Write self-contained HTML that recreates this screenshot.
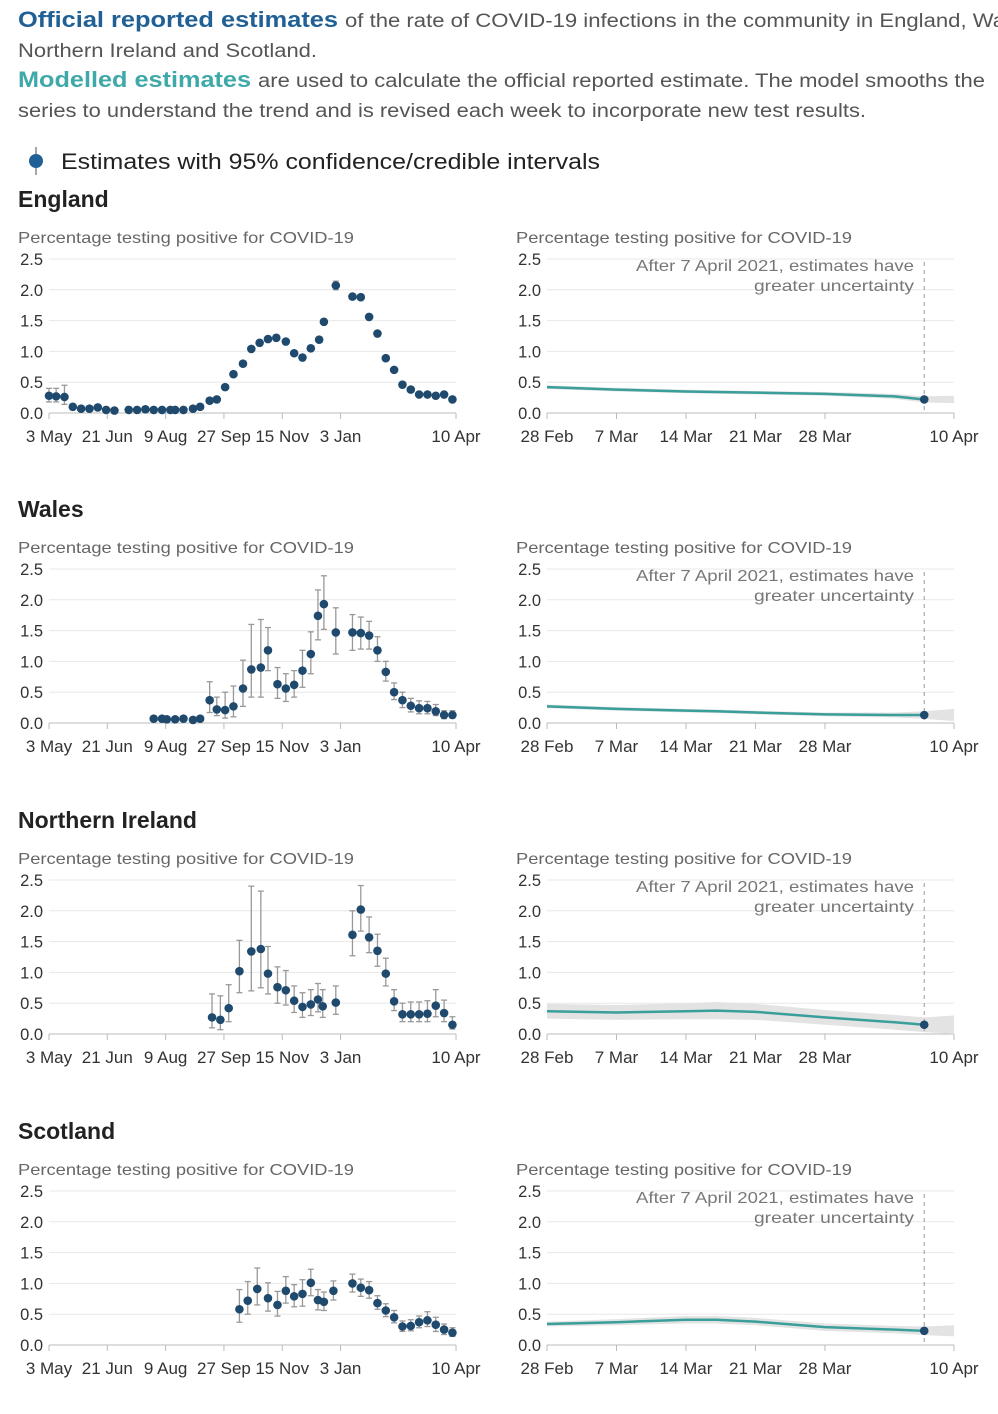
<!DOCTYPE html>
<html><head><meta charset="utf-8">
<style>
body{margin:0;background:#fff;width:998px;height:1414px;overflow:hidden;font-family:"Liberation Sans",sans-serif;}
svg{display:block}
</style></head>
<body>
<svg id="root" width="998" height="1414" viewBox="0 0 998 1414" xmlns="http://www.w3.org/2000/svg" font-family="Liberation Sans, sans-serif">
<text x="18" y="27" font-size="22" font-weight="bold" fill="#206095" textLength="320" lengthAdjust="spacingAndGlyphs">Official reported estimates</text>
<text x="345" y="27" font-size="19" fill="#555" textLength="665" lengthAdjust="spacingAndGlyphs">of the rate of COVID-19 infections in the community in England, Wal</text>
<text x="18" y="57" font-size="19" fill="#555" textLength="299" lengthAdjust="spacingAndGlyphs">Northern Ireland and Scotland.</text>
<text x="18" y="87" font-size="22" font-weight="bold" fill="#3fa8a8" textLength="233" lengthAdjust="spacingAndGlyphs">Modelled estimates</text>
<text x="258" y="87" font-size="19" fill="#555" textLength="727" lengthAdjust="spacingAndGlyphs">are used to calculate the official reported estimate. The model smooths the</text>
<text x="18" y="117" font-size="19" fill="#555" textLength="848" lengthAdjust="spacingAndGlyphs">series to understand the trend and is revised each week to incorporate new test results.</text>
<g>
<line x1="36" y1="147" x2="36" y2="175" stroke="#888" stroke-width="1.5"/>
<circle cx="36" cy="161" r="7" fill="#206095"/>
<text x="61" y="169" font-size="22" fill="#222" textLength="539" lengthAdjust="spacingAndGlyphs">Estimates with 95% confidence/credible intervals</text>
</g>
<g id="charts"></g>
</svg>
<script>
const regions = ["England","Wales","Northern Ireland","Scotland"];
const leftTickLabels = ["3 May","21 Jun","9 Aug","27 Sep","15 Nov","3 Jan","10 Apr"];
const leftTickDays = [0,49,98,147,196,245,342];
const rightTickLabels = ["28 Feb","7 Mar","14 Mar","21 Mar","28 Mar","10 Apr"];
const rightTickDays = [0,7,14,21,28,41];
const yTicks = [0,0.5,1,1.5,2,2.5];

const engDays = [0,6,13,20,27,34,41,48,55,67,74,81,88,95,102,106,113,121,127,135,141,148,155,163,170,177,184,191,199,206,213,220,227,231,241,255,262,269,276,283,290,297,304,311,318,325,332,339];
const engVals = [0.28,0.27,0.26,0.1,0.07,0.07,0.09,0.05,0.04,0.05,0.05,0.06,0.05,0.05,0.05,0.05,0.05,0.07,0.1,0.2,0.22,0.42,0.63,0.8,1.04,1.14,1.2,1.22,1.16,0.97,0.9,1.05,1.19,1.48,2.07,1.89,1.88,1.56,1.29,0.89,0.7,0.46,0.38,0.3,0.3,0.28,0.3,0.22];
const engLo = [0.18,0.18,0.14,0.07,0.05,0.05,0.06,0.03,0.02,0.03,0.03,0.04,0.03,0.03,0.03,0.03,0.03,0.05,0.08,0.18,0.2,0.4,0.6,0.77,1.01,1.11,1.17,1.19,1.13,0.94,0.87,1.02,1.16,1.44,2.0,1.85,1.84,1.52,1.26,0.86,0.67,0.43,0.35,0.27,0.27,0.25,0.27,0.19];
const engHi = [0.4,0.4,0.45,0.13,0.1,0.1,0.13,0.08,0.07,0.08,0.08,0.09,0.08,0.08,0.08,0.08,0.08,0.1,0.12,0.22,0.24,0.44,0.66,0.83,1.07,1.17,1.23,1.25,1.19,1.0,0.93,1.08,1.22,1.52,2.14,1.93,1.92,1.6,1.32,0.92,0.73,0.49,0.41,0.33,0.33,0.31,0.33,0.25];

const walDays = [88,95,99,106,113,121,127,135,141,148,155,163,170,178,184,192,199,206,213,220,226,231,241,255,262,269,276,283,290,297,304,311,318,325,332,339];
const walVals = [0.07,0.07,0.06,0.06,0.07,0.05,0.07,0.37,0.22,0.21,0.27,0.56,0.87,0.9,1.18,0.63,0.56,0.62,0.85,1.12,1.74,1.93,1.47,1.47,1.46,1.42,1.18,0.83,0.5,0.37,0.28,0.24,0.24,0.19,0.13,0.13];
const walLo = [0.04,0.04,0.03,0.03,0.04,0.02,0.03,0.17,0.12,0.08,0.1,0.27,0.42,0.42,0.85,0.4,0.35,0.42,0.58,0.8,1.35,1.52,1.12,1.18,1.2,1.2,1.0,0.68,0.38,0.25,0.18,0.15,0.15,0.12,0.07,0.08];
const walHi = [0.1,0.1,0.09,0.09,0.1,0.08,0.11,0.67,0.42,0.5,0.6,1.02,1.6,1.68,1.55,0.9,0.8,0.85,1.18,1.48,2.16,2.39,1.87,1.76,1.72,1.65,1.4,1.0,0.65,0.5,0.4,0.36,0.35,0.3,0.2,0.2];

const niDays = [137,144,151,160,170,178,184,192,199,206,213,220,226,230,241,255,262,269,276,283,290,297,304,311,318,325,332,339];
const niVals = [0.27,0.23,0.42,1.02,1.34,1.38,0.98,0.76,0.71,0.54,0.44,0.48,0.56,0.45,0.51,1.61,2.02,1.57,1.35,0.98,0.53,0.32,0.32,0.32,0.33,0.46,0.34,0.15];
const niLo = [0.1,0.07,0.2,0.67,0.7,0.75,0.65,0.5,0.47,0.35,0.27,0.3,0.36,0.27,0.32,1.27,1.67,1.32,1.1,0.78,0.38,0.2,0.2,0.2,0.2,0.28,0.2,0.08];
const niHi = [0.65,0.62,0.8,1.52,2.4,2.32,1.42,1.09,1.03,0.78,0.67,0.72,0.82,0.72,0.78,2.0,2.41,1.9,1.62,1.23,0.72,0.5,0.52,0.52,0.54,0.72,0.55,0.28];

const scoDays = [160,167,175,184,192,199,206,213,220,226,231,239,255,262,269,276,283,290,297,304,311,318,325,332,339];
const scoVals = [0.58,0.72,0.91,0.76,0.65,0.88,0.79,0.83,1.01,0.73,0.7,0.88,1.0,0.93,0.89,0.68,0.56,0.45,0.3,0.31,0.37,0.4,0.33,0.25,0.2];
const scoLo = [0.37,0.5,0.65,0.55,0.47,0.68,0.62,0.63,0.8,0.57,0.56,0.73,0.86,0.79,0.76,0.58,0.46,0.36,0.22,0.23,0.28,0.3,0.22,0.17,0.14];
const scoHi = [0.9,1.03,1.25,1.01,0.87,1.11,0.98,1.06,1.23,0.9,0.86,1.04,1.15,1.07,1.03,0.8,0.67,0.56,0.39,0.41,0.47,0.54,0.45,0.34,0.28];

const modDays = [0,7,14,17,21,28,35,38,41];
const engMod = [0.42,0.38,0.35,0.34,0.33,0.31,0.27,0.22,0.22];
const engModBand = [0.03,0.03,0.03,0.03,0.03,0.03,0.04,0.05,0.06];
const walMod = [0.27,0.23,0.2,0.19,0.17,0.14,0.13,0.13,0.13];
const walModBand = [0.03,0.03,0.03,0.03,0.03,0.03,0.04,0.06,0.1];
const niMod = [0.37,0.35,0.37,0.38,0.36,0.27,0.19,0.15,0.15];
const niModBand = [0.12,0.12,0.13,0.14,0.13,0.12,0.12,0.12,0.15];
const scoMod = [0.34,0.37,0.41,0.41,0.38,0.29,0.25,0.23,0.23];
const scoModBand = [0.04,0.05,0.06,0.06,0.06,0.06,0.06,0.07,0.09];
const pointDay = 38;

const series = [
 {d:engDays,v:engVals,lo:engLo,hi:engHi,m:engMod,b:engModBand},
 {d:walDays,v:walVals,lo:walLo,hi:walHi,m:walMod,b:walModBand},
 {d:niDays,v:niVals,lo:niLo,hi:niHi,m:niMod,b:niModBand},
 {d:scoDays,v:scoVals,lo:scoLo,hi:scoHi,m:scoMod,b:scoModBand}
];

const NS="http://www.w3.org/2000/svg";
const root=document.getElementById('charts');
function mk(tag,attrs,parent,txt){const e=document.createElementNS(NS,tag);for(const k in attrs)e.setAttribute(k,attrs[k]);if(txt!==undefined)e.textContent=txt;parent.appendChild(e);return e;}
const panelOffsets=[0,310,621,932];

regions.forEach((name,i)=>{
 const off=panelOffsets[i];
 const s=series[i];
 const g=mk('g',{},root);
 
 
 const h=mk('text',{x:18,y:207+off,'font-size':23,'font-weight':'bold',fill:'#222'},g,name);
 
 
 const y0=413+off, yTop=259+off;
 const yS=v=>y0-(v/2.5)*(y0-yTop);
 [[49,456,'left'],[547,954,'right']].forEach(([xa,xb,side])=>{
  const cg=mk('g',{},g);
  
  
  const st=mk('text',{x:xa-31,y:243+off,'font-size':16,fill:'#666',textLength:336,lengthAdjust:'spacingAndGlyphs'},cg,'Percentage testing positive for COVID-19');
  
  
  yTicks.forEach(t=>{
   const y=yS(t);
   if(t>0){const gl=mk('line',{x1:xa,x2:xb,y1:y,y2:y,stroke:'#e8e8e8','stroke-width':1},cg);
    
    }
   const tl=mk('text',{x:xa-6,y:y+6,'font-size':16.5,fill:'#333','text-anchor':'end'},cg,t.toFixed(1));
   
   
  });
  const ax=mk('line',{x1:xa,x2:xb,y1:y0,y2:y0,stroke:'#bbb','stroke-width':1},cg);
  
  
  let xS,labels,days;
  if(side==='left'){xS=d=>xa+d*(xb-xa)/342;labels=leftTickLabels;days=leftTickDays;}
  else{xS=d=>xa+d*(xb-xa)/41;labels=rightTickLabels;days=rightTickDays;}
  days.forEach((d,k)=>{
   const x=xS(d);
   mk('line',{x1:x,x2:x,y1:y0,y2:y0+6,stroke:'#bbb'},cg);
   const tl=mk('text',{x:x,y:y0+29,'font-size':17,fill:'#333','text-anchor':'middle'},cg,labels[k]);
   
   
  });
  if(side==='left'){
   s.d.forEach((d,k)=>{
    const x=xS(d);
    const pg=mk('g',{},cg);
    
    
    mk('line',{x1:x,x2:x,y1:yS(s.lo[k]),y2:yS(s.hi[k]),stroke:'#999','stroke-width':1.3},pg);
    mk('line',{x1:x-3,x2:x+3,y1:yS(s.lo[k]),y2:yS(s.lo[k]),stroke:'#999','stroke-width':1.3},pg);
    mk('line',{x1:x-3,x2:x+3,y1:yS(s.hi[k]),y2:yS(s.hi[k]),stroke:'#999','stroke-width':1.3},pg);
    mk('circle',{cx:x,cy:yS(s.v[k]),r:4.3,fill:'#1f4a6e'},pg);
   });
  } else {
   let up='',dn='',ln='';
   modDays.forEach((d,k)=>{up+=(k?'L':'M')+xS(d)+','+yS(s.m[k]+s.b[k]);});
   for(let k=modDays.length-1;k>=0;k--){dn+='L'+xS(modDays[k])+','+yS(Math.max(0,s.m[k]-s.b[k]));}
   const band=mk('path',{d:up+dn+'Z',fill:'#e3e3e3'},cg);
   
   
   const lastIdx=modDays.indexOf(pointDay);
   modDays.slice(0,lastIdx+1).forEach((d,k)=>{ln+=(k?'L':'M')+xS(d)+','+yS(s.m[k]);});
   const line=mk('path',{d:ln,fill:'none',stroke:'#3a9e9a','stroke-width':2.5},cg);
   
   
   const px=xS(pointDay);
   const dl=mk('line',{x1:px,x2:px,y1:yTop+3,y2:y0,stroke:'#999','stroke-dasharray':'4,4'},cg);
   
   
   const pv=s.m[lastIdx];
   const pt=mk('circle',{cx:px,cy:yS(pv),r:4.3,fill:'#1f4a6e'},cg);
   
   
   const a1=mk('text',{x:636,y:yTop+12,'font-size':16,fill:'#777',textLength:278,lengthAdjust:'spacingAndGlyphs'},cg,'After 7 April 2021, estimates have');
   
   
   const a2=mk('text',{x:754,y:yTop+32,'font-size':16,fill:'#777',textLength:160,lengthAdjust:'spacingAndGlyphs'},cg,'greater uncertainty');
   
   
  }
 });
});
</script>
</body></html>
